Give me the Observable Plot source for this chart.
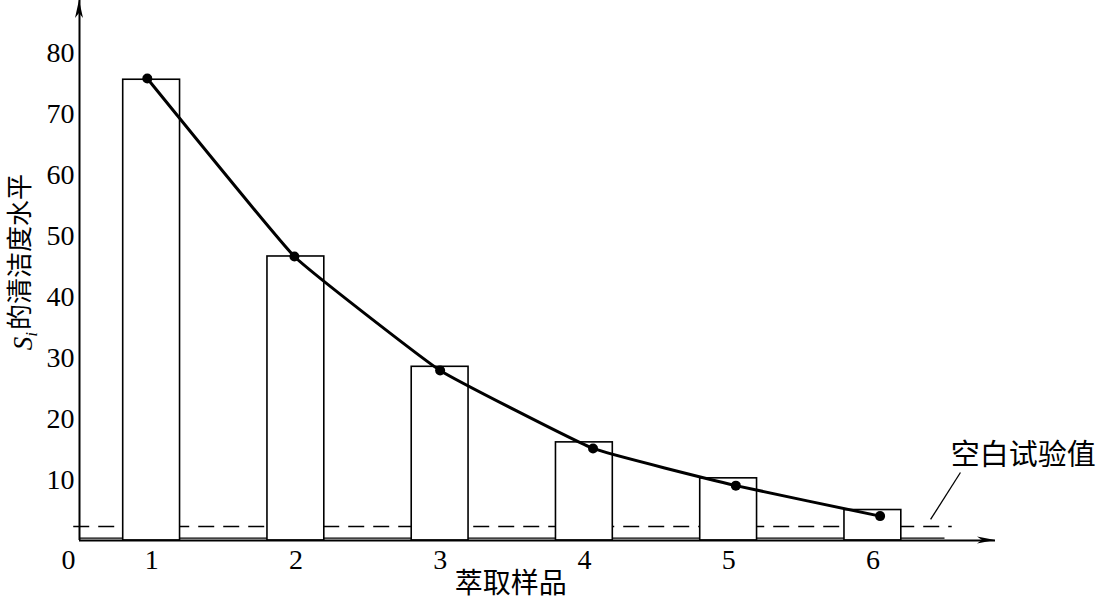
<!DOCTYPE html>
<html><head><meta charset="utf-8">
<script src="https://cdn.jsdelivr.net/npm/d3@7"></script>
<script src="https://cdn.jsdelivr.net/npm/@observablehq/plot@0.6"></script>
<style>body{margin:0;background:#fff} svg{display:block}</style>
</head><body><div id="chart"></div>
<script>
// ---- data ----
const samples = [1, 2, 3, 4, 5, 6];
const barValues = [75.6, 46.6, 28.5, 16.1, 10.2, 5.0];
const curveX = [0.97, 1.99, 3.0, 4.06, 5.05, 6.05];
const curveValues = [75.8, 46.6, 27.9, 15.1, 9.0, 4.0];
const blankValue = 2.3;     // dashed line (空白试验值)
const baseValue = 0.4;      // thin solid line above the axis
const yTicks = [10, 20, 30, 40, 50, 60, 70, 80];
const xTicks = [1, 2, 3, 4, 5, 6];
const xLabel = "萃取样品";
const yLabelS = "S", yLabelSub = "i", yLabelRest = "的清洁度水平";
const noteText = "空白试验值";

// ---- layout constants ----
const X0 = 0.5, X1 = 6.85, Y1 = 88.6;
const half = 0.197;
const notePos = {x: 6.54, y: 13.9};
const noteLine = {x1: 6.40, y1: 3.45, x2: 6.607, y2: 11.16};
const serif = "'Liberation Serif','Times New Roman',serif";
const cjk = "'Noto Sans CJK SC','Noto Sans CJK JP',sans-serif";

const bars = samples.map((s, i) => ({s, v: barValues[i]}));
const pts = curveX.map((x, i) => ({x, v: curveValues[i]}));

const plot = Plot.plot({
  width: 1097, height: 600,
  marginLeft: 79, marginRight: 102, marginTop: 0, marginBottom: 60,
  x: {domain: [X0, X1]},
  y: {domain: [0, Y1]},
  style: {background: "#fff", fontFamily: serif, fontSize: "28px", color: "#000"},
  marks: [
    Plot.ruleY([blankValue], {x1: 0.46, x2: 6.55, stroke: "#000", strokeWidth: 1.3, strokeDasharray: "16,9"}),
    Plot.ruleY([baseValue], {x1: X0, x2: 6.5, stroke: "#000", strokeWidth: 1.3}),
    Plot.rectY(bars, {x1: d => d.s - half, x2: d => d.s + half, y1: 0, y2: "v", fill: "#fff", stroke: "#000", strokeWidth: 1.6}),
    Plot.line(pts, {x: "x", y: "v", curve: "cardinal", tension: 0.7, stroke: "#000", strokeWidth: 3}),
    Plot.dot(pts, {x: "x", y: "v", r: 5, fill: "#000"}),
    Plot.ruleX([X0], {stroke: "#000", strokeWidth: 2}),
    Plot.ruleY([0], {stroke: "#000", strokeWidth: 2}),
    Plot.axisY({ticks: yTicks, tickSize: 0, tickPadding: 5, label: null, tickFormat: d => String(d), fontFamily: serif, fontSize: 28}),
    Plot.axisX({ticks: xTicks, tickSize: 0, tickPadding: 9, label: null, tickFormat: d => String(d), fontFamily: serif, fontSize: 28}),
    Plot.text([0], {x: X0, y: 0, text: d => String(d), dx: -11, dy: 9, lineAnchor: "top", fontFamily: serif, fontSize: 28, fill: "#000"}),
    Plot.text([xLabel], {x: 3.49, y: 0, text: d => d, dy: 44, lineAnchor: "middle", fontFamily: cjk, fontSize: 28, fill: "#000"}),
    Plot.text([noteText], {x: notePos.x, y: notePos.y, text: d => d, textAnchor: "start", lineAnchor: "middle", fontFamily: cjk, fontSize: 29, fill: "#000"}),
    Plot.link([noteLine], {x1: "x1", y1: "y1", x2: "x2", y2: "y2", stroke: "#000", strokeWidth: 1.3})
  ]
});

document.getElementById("chart").appendChild(plot);

// arrowheads and rotated y label
const svg = d3.select(plot.tagName.toLowerCase() === "svg" ? plot : plot.querySelector("svg"));
const sx = plot.scale("x"), sy = plot.scale("y");
const ax = sx.apply(X0), ay0 = sy.apply(0), ayTop = sy.apply(Y1);
const axRight = sx.apply(X1);
svg.append("path")
  .attr("d", `M${ax},${ayTop} L${ax + 4},${ayTop + 18} L${ax},${ayTop + 13} L${ax - 4},${ayTop + 18} Z`)
  .attr("fill", "#000");
svg.append("path")
  .attr("d", `M${axRight},${ay0} L${axRight - 18},${ay0 - 3.5} L${axRight - 13},${ay0} L${axRight - 18},${ay0 + 3.5} Z`)
  .attr("fill", "#000");

const yl = svg.append("text")
  .attr("transform", "translate(32,262) rotate(-90)")
  .attr("text-anchor", "middle")
  .attr("fill", "#000");
yl.append("tspan").attr("font-family", serif).attr("font-style", "italic").attr("font-size", 27).text(yLabelS);
yl.append("tspan").attr("font-family", serif).attr("font-style", "italic").attr("font-size", 17).attr("dy", "0.3em").text(yLabelSub);
yl.append("tspan").attr("font-family", cjk).attr("font-size", 26).attr("dy", "-0.3em").attr("dx", 2).text(yLabelRest);
</script>
</body></html>
